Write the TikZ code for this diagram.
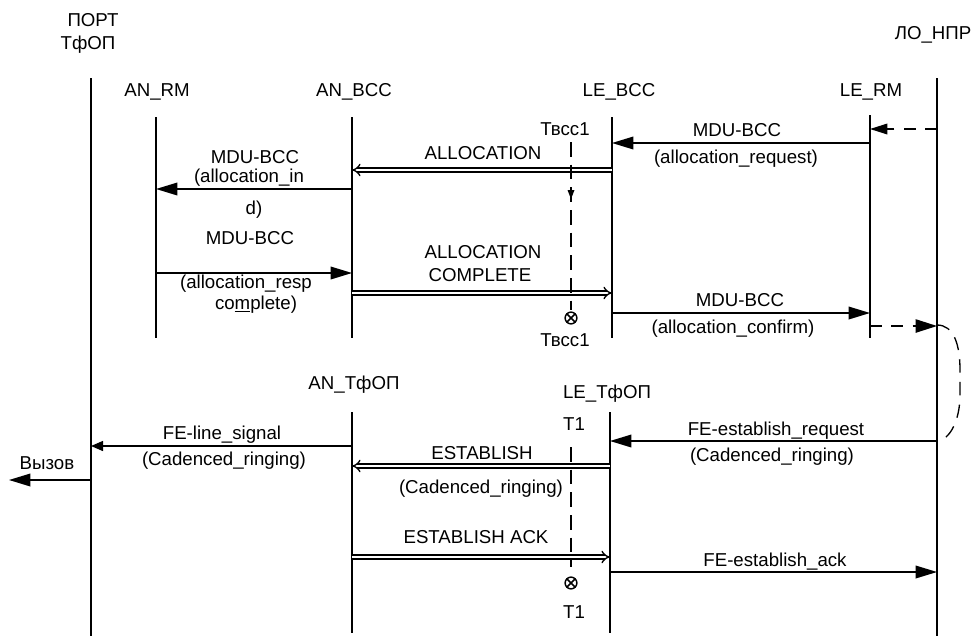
\documentclass[tikz,border=0pt]{standalone}
\usepackage{fontspec}
\setmainfont{Liberation Sans}
\usetikzlibrary{arrows.meta}
\begin{document}
\begin{tikzpicture}[x=0.75pt,y=-0.75pt,
 lbl/.style={inner sep=0pt, anchor=base, font=\fontsize{14}{16}\selectfont},
 life/.style={line width=1.4pt},
 msg/.style={line width=1pt, -{Triangle[length=16pt,width=9.5pt]}},
 smsg/.style={line width=1pt, -{Triangle[length=9pt,width=7.5pt]}},
 dmsg/.style={line width=1pt, dash pattern=on 9pt off 7pt, -{Triangle[length=13pt,width=8pt]}},
 dbl/.style={double, line width=1pt, double distance=2.2pt, -{Implies}},
 timer/.style={line width=1pt, dash pattern=on 11pt off 6pt},
 curvedash/.style={line width=1pt, dash pattern=on 10pt off 7pt},
 tsym/.style={line width=1.1pt},
]
\useasboundingbox (0,0) rectangle (979,636);
% lifelines
\coordinate (PT) at (91,78);   \coordinate (PB) at (91,636);
\coordinate (ART) at (156,117); \coordinate (ARB) at (156,338);
\coordinate (ABT) at (352,117); \coordinate (ABB) at (352,338);
\coordinate (LBT) at (612,117); \coordinate (LBB) at (612,338);
\coordinate (LRT) at (870,115); \coordinate (LRB) at (870,338);
\coordinate (LOT) at (937,78);  \coordinate (LOB) at (937,636);
\coordinate (ATT) at (352,412); \coordinate (ATB) at (352,633);
\coordinate (LTT) at (610,412); \coordinate (LTB) at (610,633);
\foreach \a/\b in {PT/PB,ART/ARB,ABT/ABB,LBT/LBB,LRT/LRB,LOT/LOB,ATT/ATB,LTT/LTB}
  \draw[life] (\a) -- (\b);
% headers
\node[lbl] (h1a) at (93,26) {ПОРТ};
\node[lbl] (h1b) at (88,49) {ТфОП};
\node[lbl] (h2) at (157,96) {AN\_RM};
\node[lbl] (h3) at (354,96) {AN\_BCC};
\node[lbl] (h4) at (619,96) {LE\_BCC};
\node[lbl] (h5) at (871,96) {LE\_RM};
\node[lbl] (h6) at (933,39) {ЛО\_НПР};
\node[lbl] (h7) at (354,389) {AN\_ТфОП};
\node[lbl] (h8) at (607,398) {LE\_ТфОП};
% top part messages
\draw[dmsg] (LOT |- 0,129) -- (LRT |- 0,129);
\draw[msg] (LRT |- 0,143) -- (LBT |- 0,143);
\node[lbl] (t1) at (737,136) {MDU-BCC};
\node[lbl] (t2) at (736,163) {(allocation\_request)};
\draw[dbl] (LBT |- 0,170) -- (ABT |- 0,170);
\node[lbl] (t3) at (483,159) {ALLOCATION};
\draw[msg] (ABT |- 0,189) -- (ART |- 0,189);
\node[lbl] (t4) at (255,163) {MDU-BCC};
\node[lbl] (t5) at (249,182) {(allocation\_in};
\node[lbl] (t6) at (254,214) {d)};
\node[lbl] (t7) at (250,244) {MDU-BCC};
\draw[msg] (ART |- 0,273) -- (ABT |- 0,273);
\node[lbl] (t8) at (246,288) {(allocation\_resp};
\node[lbl] (t9) at (256,309) {co\underline{m}plete)};
\node[lbl] (t10) at (483,258) {ALLOCATION};
\node[lbl] (t11) at (480,281) {COMPLETE};
\draw[dbl] (ABT |- 0,293) -- (LBT |- 0,293);
\draw[msg] (LBT |- 0,313) -- (LRT |- 0,313);
\node[lbl] (t12) at (740,306) {MDU-BCC};
\node[lbl] (t13) at (733,333) {(allocation\_confirm)};
\draw[dmsg, -{Triangle[length=16pt,width=10pt]}] (LRT |- 0,326) -- (LOT |- 0,326);
% timer Tbcc1
\coordinate (tm1a) at (571,142); \coordinate (tm1b) at (571,310);
\draw[timer] (tm1a) -- (tm1b);
\fill (567.5,190) -- (574.5,190) -- (571,199) -- cycle;
\node[lbl] (tb1) at (565,135) {Твсс1};
\node[lbl] (tb2) at (565,346) {Твсс1};
\draw[tsym] (571,318) circle[radius=4.4pt];
\draw[tsym] (566.6,313.6) -- (575.4,322.4) (575.4,313.6) -- (566.6,322.4);
% curve
\coordinate (cv1) at (937,325); \coordinate (cv2) at (937,441);
\draw[curvedash] (cv1) .. controls (954,325) and (960,345) .. (960,370) -- (960,395)
  .. controls (960,420) and (950,440) .. (cv2);
% bottom part
\draw[msg] (LOT |- 0,441) -- (LTT |- 0,441);
\node[lbl] (b1) at (776,435) {FE-establish\_request};
\node[lbl] (b2) at (772,461) {(Cadenced\_ringing)};
\draw[smsg] (ATT |- 0,446) -- (PT |- 0,446);
\node[lbl] (b3) at (222,439) {FE-line\_signal};
\node[lbl] (b4) at (224,465) {(Cadenced\_ringing)};
\coordinate (callEnd) at (9,480);
\draw[msg] (PT |- 0,480) -- (callEnd);
\node[lbl] (b5) at (47,469) {Вызов};
\draw[dbl] (LTT |- 0,466) -- (ATT |- 0,466);
\node[lbl] (b6) at (482,459) {ESTABLISH};
\node[lbl] (b7) at (481,493) {(Cadenced\_ringing)};
\node[lbl] (b8) at (476,543) {ESTABLISH ACK};
\draw[dbl] (ATT |- 0,557) -- (LTT |- 0,557);
\draw[msg] (LTT |- 0,572) -- (LOT |- 0,572);
\node[lbl] (b9) at (775,566) {FE-establish\_ack};
% timer T1
\coordinate (tm2a) at (571,447); \coordinate (tm2b) at (571,567);
\draw[timer] (tm2a) -- (tm2b);
\node[lbl] (T1a) at (574,430) {T1};
\node[lbl] (T1b) at (574,618) {T1};
\draw[tsym] (571,583) circle[radius=4.4pt];
\draw[tsym] (566.6,578.6) -- (575.4,587.4) (575.4,578.6) -- (566.6,587.4);
\end{tikzpicture}
\end{document}
